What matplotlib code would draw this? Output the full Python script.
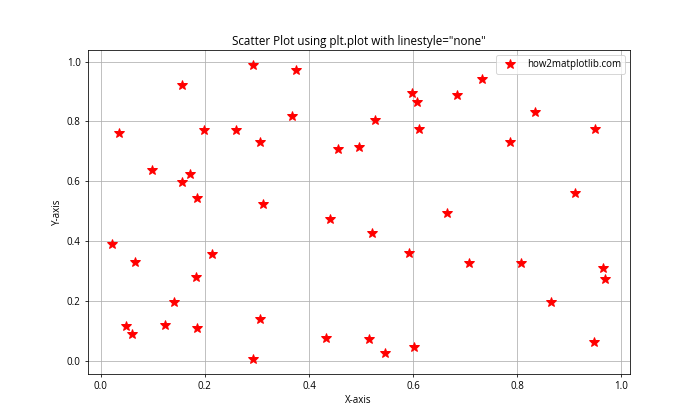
import matplotlib
matplotlib.use("Agg")
import matplotlib.pyplot as plt

plt.rcParams['font.family'] = ['Open Sans', 'DejaVu Sans']

# points
x = [0.157, 0.035, 0.199, 0.098, 0.171, 0.157, 0.185,
     0.292, 0.375, 0.367, 0.259, 0.305, 0.456, 0.312,
     0.733, 0.598, 0.607, 0.685, 0.526, 0.612, 0.496,
     0.833, 0.949, 0.785, 0.910,
     0.022, 0.065, 0.213, 0.183, 0.140, 0.048, 0.060, 0.123, 0.185,
     0.440, 0.305, 0.432, 0.292,
     0.664, 0.521, 0.592, 0.707, 0.515, 0.546, 0.602,
     0.808, 0.965, 0.969, 0.865, 0.948]
y = [0.921, 0.760, 0.771, 0.638, 0.624, 0.598, 0.544,
     0.988, 0.972, 0.818, 0.771, 0.731, 0.708, 0.524,
     0.942, 0.896, 0.865, 0.888, 0.805, 0.775, 0.715,
     0.831, 0.775, 0.730, 0.560,
     0.391, 0.331, 0.357, 0.281, 0.199, 0.118, 0.090, 0.121, 0.110,
     0.474, 0.140, 0.077, 0.007,
     0.494, 0.427, 0.361, 0.327, 0.074, 0.027, 0.047,
     0.327, 0.311, 0.274, 0.197, 0.063]

fig = plt.figure(figsize=(10, 6), dpi=70)
plt.plot(x, y, marker='*', linestyle='none', color='red', markersize=10,
         label='how2matplotlib.com')
plt.title('Scatter Plot using plt.plot with linestyle="none"')
plt.xlabel('X-axis')
plt.ylabel('Y-axis')
plt.legend()
plt.grid(True)
plt.savefig('out.png', dpi=70)
